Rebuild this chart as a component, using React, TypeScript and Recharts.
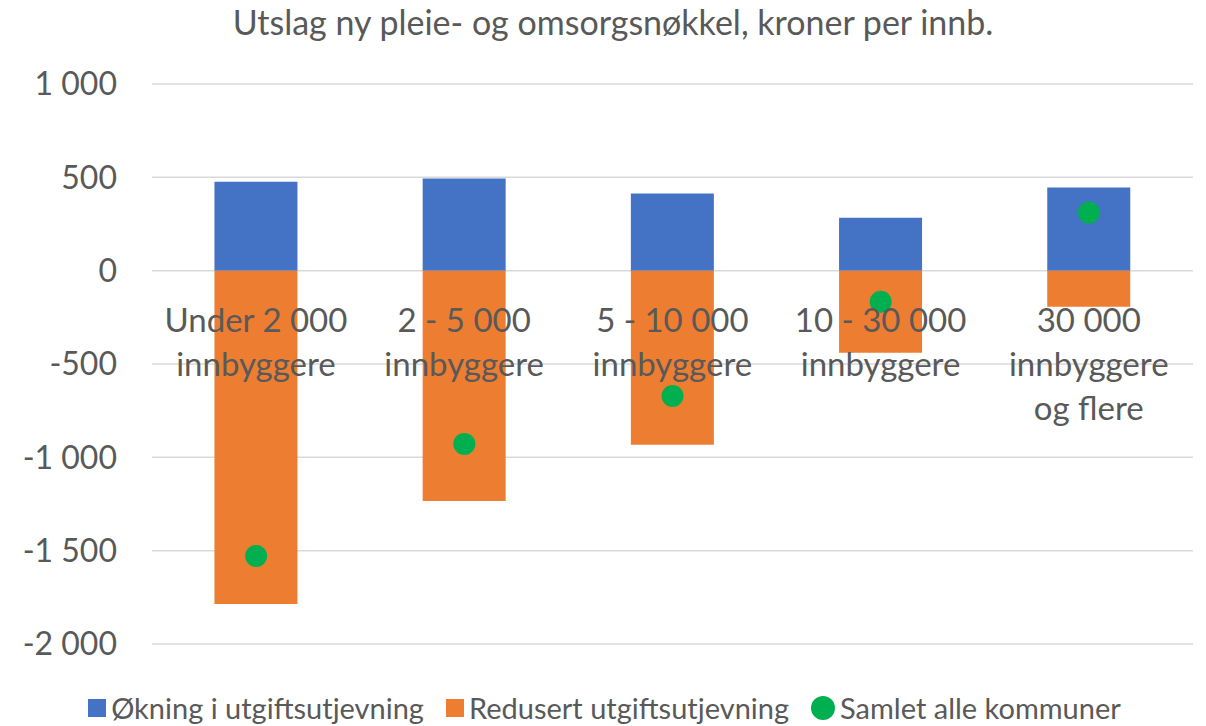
import { ComposedChart, Bar, Line, XAxis, YAxis, CartesianGrid, Legend, LabelList } from 'recharts';

const categories = [
  'Under 2 000|innbyggere',
  '2 - 5 000|innbyggere',
  '5 - 10 000|innbyggere',
  '10 - 30 000|innbyggere',
  '30 000|innbyggere|og flere',
];
const okning = [477, 494, 413, 284, 445];
const redusert = [-1786, -1234, -933, -440, -193];
const samlet = [-1529, -928, -671, -166, 311];
const yTicks = [1000, 500, 0, -500, -1000, -1500, -2000];

const TEXT = '#595959';
const FONT = 'Lato, sans-serif';

const formatTick = (v: number) => {
  const abs = Math.abs(v);
  const s = abs >= 1000 ? `${Math.floor(abs / 1000)} ${String(abs % 1000).padStart(3, '0')}` : String(abs);
  return v < 0 ? `-${s}` : s;
};

const data = categories.map((name, i) => ({
  name,
  okning: okning[i],
  redusert: redusert[i],
  samlet: samlet[i],
}));

// category names sit just under the zero line, like the Excel axis
const CategoryLabel = (props: any) => {
  const { x, y, width, height, value } = props;
  const lines = String(value).split('|');
  const cx = Number(x) + Number(width) / 2;
  const base = Number(y) + Number(height);
  return (
    <text x={cx} y={base} textAnchor="middle" fill={TEXT} fontSize={33} fontFamily={FONT}>
      {lines.map((l, i) => (
        <tspan key={i} x={cx} dy={i === 0 ? 61 : 44}>{l}</tspan>
      ))}
    </text>
  );
};

const legendItems = [
  { label: 'Økning i utgiftsutjevning', color: '#4472C4', shape: 'square' },
  { label: 'Redusert utgiftsutjevning', color: '#ED7D31', shape: 'square' },
  { label: 'Samlet alle kommuner', color: '#00B050', shape: 'circle' },
];

const renderLegend = () => (
  <div
    style={{
      display: 'flex',
      justifyContent: 'center',
      gap: 22,
      paddingLeft: 16,
      fontFamily: FONT,
      fontSize: 29,
      color: TEXT,
      lineHeight: '34px',
    }}
  >
    {legendItems.map((it) => (
      <div key={it.label} style={{ display: 'flex', alignItems: 'center' }}>
        <span
          style={{
            display: 'inline-block',
            width: it.shape === 'circle' ? 24 : 18,
            height: it.shape === 'circle' ? 24 : 18,
            borderRadius: it.shape === 'circle' ? '50%' : 0,
            background: it.color,
            marginRight: 5,
          }}
        />
        {it.label}
      </div>
    ))}
  </div>
);

export default function App() {
  return (
    <div style={{ position: 'absolute', left: 0, top: 0, width: 1206, height: 726, background: '#fff' }}>
      <div
        style={{
          position: 'absolute',
          top: 1,
          left: 10,
          width: 1206,
          textAlign: 'center',
          fontFamily: FONT,
          fontSize: 34,
          color: TEXT,
        }}
      >
        Utslag ny pleie- og omsorgsnøkkel, kroner per innb.
      </div>
      <ComposedChart
        width={1206}
        height={726}
        data={data}
        stackOffset="sign"
        barCategoryGap="30%"
        margin={{ top: 84, right: 13, bottom: 48, left: 0 }}
      >
        <CartesianGrid vertical={false} stroke="#D9D9D9" strokeWidth={1.5} />
        <XAxis dataKey="name" hide />
        <YAxis
          domain={[-2000, 1000]}
          ticks={yTicks}
          width={152}
          axisLine={false}
          tickLine={false}
          tickMargin={29}
          tickFormatter={formatTick}
          tick={{ fill: TEXT, fontSize: 32, fontFamily: FONT }}
        />
        <Bar dataKey="okning" stackId="a" fill="#4472C4" isAnimationActive={false}>
          <LabelList dataKey="name" content={CategoryLabel} />
        </Bar>
        <Bar dataKey="redusert" stackId="a" fill="#ED7D31" isAnimationActive={false} />
        <Line
          dataKey="samlet"
          stroke="none"
          dot={{ r: 11, fill: '#00B050', stroke: 'none' }}
          activeDot={false}
          isAnimationActive={false}
        />
        <Legend verticalAlign="bottom" content={renderLegend} wrapperStyle={{ bottom: 1 }} />
      </ComposedChart>
    </div>
  );
}
